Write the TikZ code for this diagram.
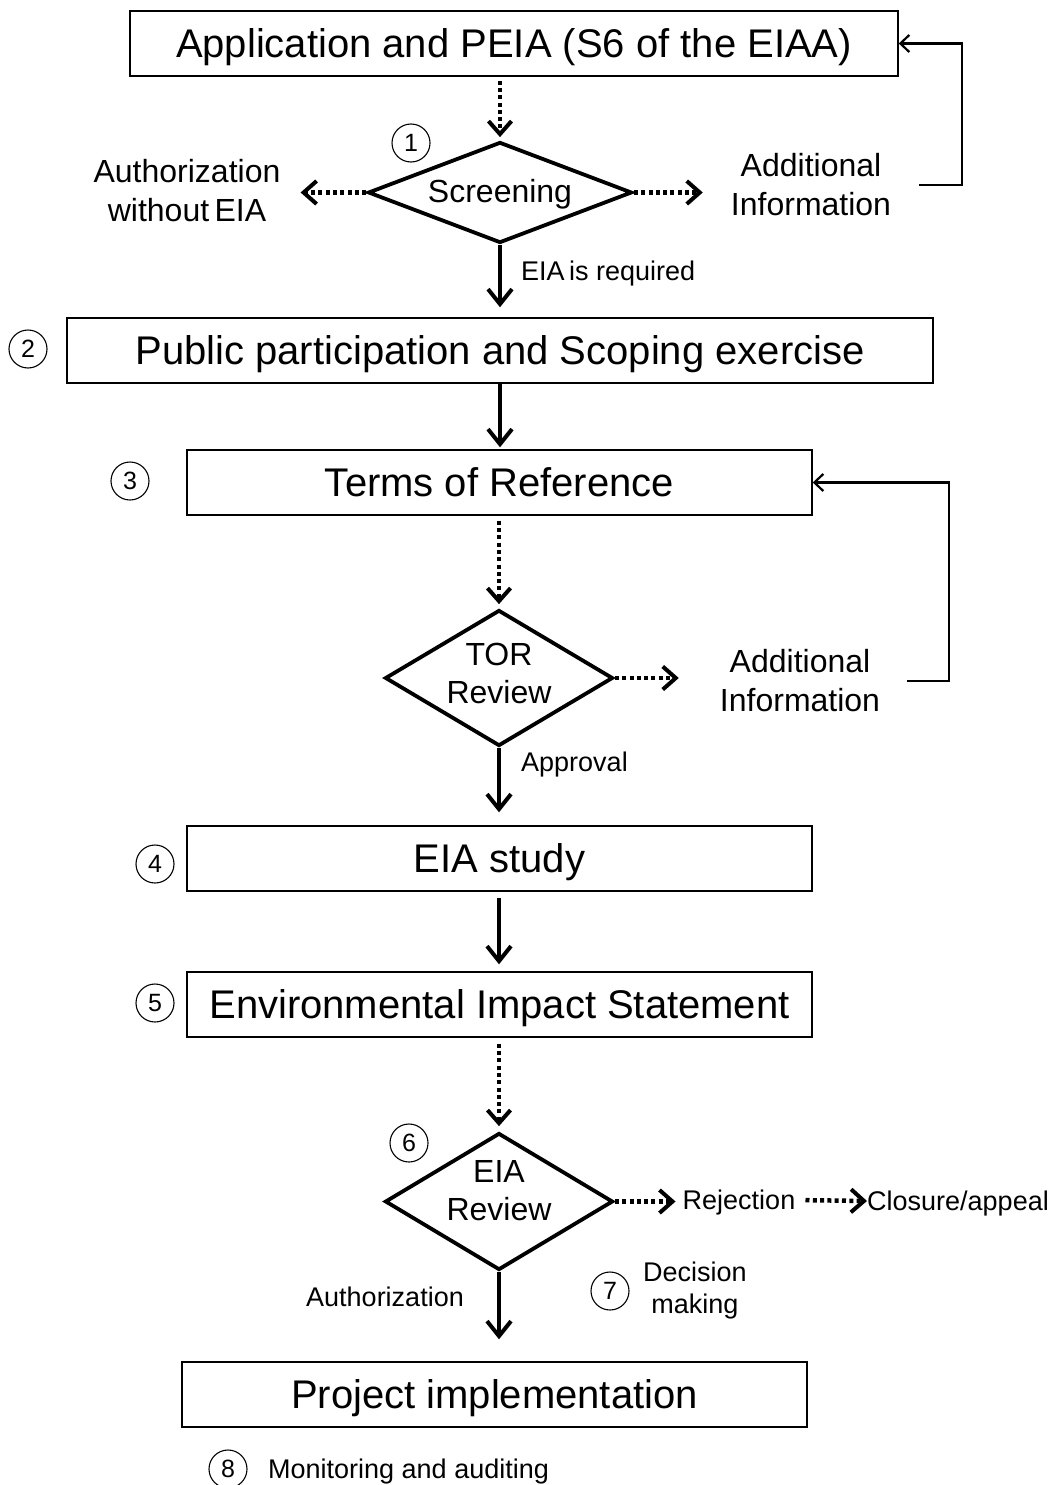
\documentclass[tikz,border=0pt]{standalone}
\usepackage{fontspec}
\setmainfont{Liberation Sans}
\usetikzlibrary{arrows.meta,shapes.geometric}
\begin{document}
\begin{tikzpicture}[x=1pt,y=-1pt,
  box/.style={draw,line width=1.4pt,inner sep=0pt,font=\fontsize{40}{46}\selectfont,text height=28.6pt,text depth=0pt},
  dia/.style={draw,diamond,line width=3.8pt,inner sep=0pt},
  diatext/.style={font=\fontsize{32}{38}\selectfont,align=center,inner sep=0pt},
  num/.style={draw,circle,line width=1.1pt,minimum size=38pt,inner sep=0pt,font=\fontsize{25}{29}\selectfont},
  big/.style={font=\fontsize{32}{39}\selectfont,align=center,inner sep=0pt},
  small/.style={font=\fontsize{27}{32}\selectfont,align=center,inner sep=0pt,text height=19.3pt,text depth=0pt},
  smalltwo/.style={font=\fontsize{27}{32}\selectfont,align=center,inner sep=0pt},
  solidarr/.style={line width=4pt,-{Straight Barb[length=15pt,width=24pt,line width=4pt]}},
  dotarr/.style={line width=4.5pt,dash pattern=on 4pt off 3.3pt,-{Straight Barb[length=13pt,width=23pt,line width=4pt]}},
  fb/.style={line width=2.4pt,-{Straight Barb[length=9pt,width=17pt,line width=2.2pt]}}
]
\useasboundingbox (0,0) rectangle (1060,1485);

% boxes
\node[box,minimum width=768pt,minimum height=65pt] (app) at (514,43.5) {Application and PEIA (S6 of the EIAA)};
\node[box,minimum width=866pt,minimum height=65pt] (pub) at (500,350.5) {Public participation and Scoping exercise};
\node[box,minimum width=625pt,minimum height=65pt] (tor) at (499.5,482.5) {Terms of Reference};
\node[box,minimum width=625pt,minimum height=65pt] (eia) at (499.5,858.5) {EIA study};
\node[box,minimum width=625pt,minimum height=65pt] (eis) at (499.5,1004.5) {Environmental Impact Statement};
\node[box,minimum width=625pt,minimum height=65pt] (proj) at (494.5,1394.5) {Project implementation};

% diamonds
\node[dia,minimum width=264pt,minimum height=101pt] (scr) at (500,192.5) {};
\node[dia,minimum width=228pt,minimum height=136pt] (trv) at (499,678) {};
\node[dia,minimum width=228pt,minimum height=137pt] (erv) at (499,1201.5) {};
\node[diatext] (scrt) at (500,194) {Screening};
\node[diatext] (trvt) at (499,673) {TOR\\Review};
\node[diatext] (ervt) at (499,1191) {EIA\\Review};

% number circles
\node[num] (n1) at (411,143) {1};
\node[num] (n2) at (28,349) {2};
\node[num] (n3) at (130,481) {3};
\node[num] (n4) at (155,864) {4};
\node[num] (n5) at (155,1003) {5};
\node[num] (n6) at (409,1143) {6};
\node[num] (n7) at (610,1291) {7};
\node[num] (n8) at (228,1469) {8};

% labels
\node[big] (auth) at (187,191) {Authorization\\without\,EIA};
\node[big] (add1) at (811,185) {Additional\\Information};
\node[big] (add2) at (800,681) {Additional\\Information};
\node[small,anchor=west] (req) at (521,271) {EIA\,is required};
\node[small,anchor=west] (appr) at (521,762) {Approval};
\node[small] (rej) at (739,1200) {Rejection};
\node[small] (clo) at (958,1201) {Closure/appeal};
\node[small,anchor=east] (authz) at (464,1297) {Authorization};
\node[smalltwo] (dec) at (695,1291) {Decision\\making};
\node[small,anchor=west] (mon) at (268,1469) {Monitoring and auditing};

% vertical flow
\draw[dotarr,shorten <=4pt,shorten >=3pt] (scr.north |- app.south) -- (scr.north);
\draw[solidarr,shorten >=10pt] (scr.south) -- (scr.south |- pub.north);
\draw[solidarr,shorten >=2pt] (scr.south |- pub.south) -- (scr.south |- tor.north);
\draw[dotarr,shorten <=5pt,shorten >=4pt] (trv.north |- tor.south) -- (trv.north);
\draw[solidarr,shorten >=13pt] (trv.south) -- (trv.south |- eia.north);
\draw[solidarr,shorten <=6pt,shorten >=7pt] (trv.south |- eia.south) -- (trv.south |- eis.north);
\draw[dotarr,shorten <=6pt,shorten >=5pt] (erv.north |- eis.south) -- (erv.north);
\draw[solidarr,shorten >=22pt] (erv.south) -- (erv.south |- proj.north);

% side arrows
\draw[dotarr,shorten >=20pt] (scr.west) -- (auth.east |- scr.west);
\draw[dotarr,shorten >=28pt] (scr.east) -- (add1.west |- scr.east);
\draw[dotarr,shorten >=41pt] (trv.east) -- (add2.west |- trv.east);
\draw[dotarr,shorten >=7pt] (erv.east) -- (rej.west |- erv.east);
\draw[dotarr,shorten <=10pt] (rej.east) -- (clo.west);

% feedback loops
\draw[fb] ([xshift=28pt]add1.east) -| ([xshift=63pt]app.east) -- (app.east);
\draw[fb] ([xshift=27pt]add2.east) -| ([xshift=136pt]tor.east) -- (tor.east);
\end{tikzpicture}
\end{document}
